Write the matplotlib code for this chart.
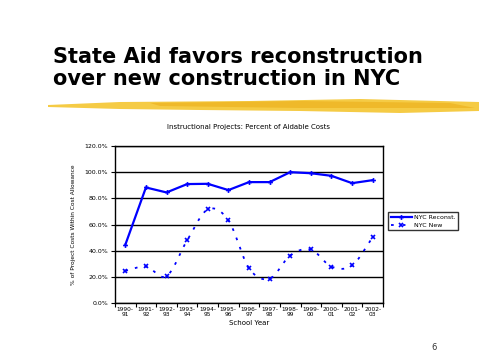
import numpy as np
import matplotlib
matplotlib.use("Agg")
import matplotlib.pyplot as plt
from matplotlib.patches import Polygon

years = ["1990-\n91", "1991-\n92", "1992-\n93", "1993-\n94", "1994-\n95", "1995-\n96",
         "1996-\n97", "1997-\n98", "1998-\n99", "1999-\n00", "2000-\n01", "2001-\n02", "2002-\n03"]
reconst = [44.5, 88.3, 84.5, 90.9, 91.1, 86.3, 92.4, 92.4, 100.0, 99.2, 97.2, 91.6, 93.9]
new = [24.6, 27.9, 20.5, 47.9, 71.5, 63.2, 26.6, 18.6, 36.3, 40.9, 27.8, 28.7, 50.2]
yticks = [0, 20, 40, 60, 80, 100, 120]

W, H = 479, 359
fig = plt.figure(figsize=(W / 100, H / 100), dpi=100)
fig.patch.set_facecolor("white")

# slide title
fig.text(53 / W, 1 - 68 / H, "State Aid favors reconstruction\nover new construction in NYC",
         fontsize=15, fontweight="heavy", family="DejaVu Sans", va="center", ha="left",
         linespacing=1.1, color="black")

# yellow brush stroke (figure pixel coords, y measured from top)
def px(pts):
    return [(a, H - b) for a, b in pts]

stroke = Polygon(px([(48, 105), (120, 102), (250, 101), (360, 99), (479, 102),
                     (479, 111), (400, 113), (300, 111), (200, 110), (120, 109), (48, 107)]),
                 closed=True, transform=None, facecolor="#F5CB45", edgecolor="none")
fig.patches.append(stroke)
stroke2 = Polygon(px([(150, 103), (300, 101), (450, 103), (475, 108), (300, 108), (160, 106)]),
                  closed=True, transform=None, facecolor="#EDB21F", edgecolor="none", alpha=0.7)
fig.patches.append(stroke2)

# page number
fig.text(434 / W, 1 - 347 / H, "6", fontsize=6, color="#333333", ha="center", va="center")

ax = fig.add_axes([115 / W, 1 - 303 / H, 268 / W, 157 / H])
x = np.arange(len(years))

# smooth curve for NYC New (Catmull-Rom through the data points)
def catmull(xs, ys, n=20):
    xs = np.asarray(xs, float); ys = np.asarray(ys, float)
    pxs = np.concatenate([[2 * xs[0] - xs[1]], xs, [2 * xs[-1] - xs[-2]]])
    pys = np.concatenate([[2 * ys[0] - ys[1]], ys, [2 * ys[-1] - ys[-2]]])
    ox, oy = [], []
    for i in range(1, len(pxs) - 2):
        t = np.linspace(0, 1, n, endpoint=False)
        for p, o in ((pxs, ox), (pys, oy)):
            p0, p1, p2, p3 = p[i - 1], p[i], p[i + 1], p[i + 2]
            o.extend(0.5 * (2 * p1 + (-p0 + p2) * t + (2 * p0 - 5 * p1 + 4 * p2 - p3) * t ** 2
                            + (-p0 + 3 * p1 - 3 * p2 + p3) * t ** 3))
    ox.append(xs[-1]); oy.append(ys[-1])
    return np.array(ox), np.array(oy)

for yv in yticks:
    ax.axhline(yv, color="black", lw=1.0, zorder=1)

ax.plot(x, reconst, color="#0000FF", lw=1.6, marker="P", markersize=3.5,
        markeredgewidth=0, zorder=3, label="NYC Reconst.")
sx, sy = catmull(x, new)
ax.plot(sx, sy, color="#0000FF", lw=1.3, linestyle=(0, (1.5, 4)), zorder=3)
ax.plot(x, new, color="#0000FF", lw=0, marker="x", markersize=3, markeredgewidth=1.2, zorder=3)
# legend proxy
ax.plot([], [], color="#0000FF", lw=1.3, linestyle=(0, (1.5, 5)), marker="x",
        markersize=3, markeredgewidth=1.2, label="NYC New")

ax.set_xlim(-0.5, len(years) - 0.5)
ax.set_ylim(0, 120)
ax.set_yticks(yticks)
ax.set_yticklabels([f"{v:.1f}%" for v in yticks], fontsize=4.5)
ax.set_xticks(np.arange(len(years) + 1) - 0.5, minor=False)
ax.set_xticklabels([])
ax.set_xticks(x, minor=True)
ax.set_xticklabels(years, minor=True, fontsize=4.2, linespacing=1.0)
ax.tick_params(axis="x", which="major", length=3, width=0.8, color="black")
ax.tick_params(axis="x", which="minor", length=0, pad=3)
ax.tick_params(axis="y", length=3, width=0.8, pad=2)
for s in ax.spines.values():
    s.set_color("black"); s.set_linewidth(1.0)

ax.set_title("Instructional Projects: Percent of Aidable Costs", fontsize=5, pad=12)
ax.set_xlabel("School Year", fontsize=5, labelpad=2)
ax.set_ylabel("% of Project Costs Within Cost Allowance", fontsize=4.2, labelpad=6)

handles, labels = ax.get_legend_handles_labels()
leg = fig.legend(handles, labels, loc="upper left", bbox_to_anchor=(388 / W, 1 - 212 / H),
                 fontsize=4.5, frameon=True, fancybox=False, edgecolor="black",
                 handlelength=3.5, handletextpad=0.3, borderpad=0.4, labelspacing=0.4,
                 borderaxespad=0)
leg.get_frame().set_linewidth(1.0)

fig.savefig("out.png", dpi=100, facecolor="white")
